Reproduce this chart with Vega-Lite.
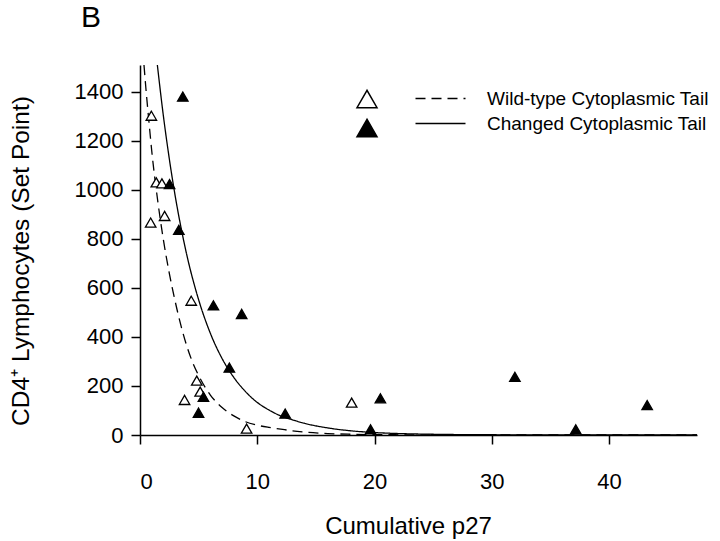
{
  "$schema": "https://vega.github.io/schema/vega-lite/v6.json",
  "autosize": "none",
  "width": 557,
  "height": 370,
  "padding": {"left": 140, "top": 65, "right": 23, "bottom": 106},
  "background": "white",
  "title": {"text": "B", "anchor": "start", "frame": "group", "dx": -59, "offset": 5, "baseline": "alphabetic", "fontSize": 30, "fontWeight": "normal", "font": "Liberation Sans", "color": "black"},
  "config": {
    "view": {"stroke": null},
    "font": "Liberation Sans",
    "axis": {"grid": false, "domainColor": "black", "domainWidth": 1.5, "tickColor": "black", "tickWidth": 1.5, "tickSize": 9, "labelColor": "black", "labelFont": "Liberation Sans", "labelFontSize": 22, "titleFont": "Liberation Sans", "titleFontSize": 24, "titleFontWeight": "normal", "titleColor": "black"}
  },
  "datasets": {
    "pts": [
      {"p27": 0.97, "cd4": 1303, "tail": "wild-type"},
      {"p27": 1.39, "cd4": 1031, "tail": "wild-type"},
      {"p27": 1.87, "cd4": 1027, "tail": "wild-type"},
      {"p27": 2.10, "cd4": 894, "tail": "wild-type"},
      {"p27": 0.91, "cd4": 867, "tail": "wild-type"},
      {"p27": 4.37, "cd4": 548, "tail": "wild-type"},
      {"p27": 4.84, "cd4": 222, "tail": "wild-type"},
      {"p27": 5.13, "cd4": 177, "tail": "wild-type"},
      {"p27": 3.80, "cd4": 143, "tail": "wild-type"},
      {"p27": 9.09, "cd4": 26, "tail": "wild-type"},
      {"p27": 18.05, "cd4": 132, "tail": "wild-type"},
      {"p27": 3.65, "cd4": 1381, "tail": "changed"},
      {"p27": 2.52, "cd4": 1024, "tail": "changed"},
      {"p27": 3.31, "cd4": 837, "tail": "changed"},
      {"p27": 6.26, "cd4": 529, "tail": "changed"},
      {"p27": 8.67, "cd4": 494, "tail": "changed"},
      {"p27": 7.62, "cd4": 275, "tail": "changed"},
      {"p27": 5.41, "cd4": 156, "tail": "changed"},
      {"p27": 4.99, "cd4": 91, "tail": "changed"},
      {"p27": 12.38, "cd4": 87, "tail": "changed"},
      {"p27": 20.5, "cd4": 150, "tail": "changed"},
      {"p27": 19.66, "cd4": 23, "tail": "changed"},
      {"p27": 37.16, "cd4": 23, "tail": "changed"},
      {"p27": 43.25, "cd4": 122, "tail": "changed"},
      {"p27": 31.97, "cd4": 237, "tail": "changed"}
    ],
    "fits": [
      {"x": 0.34, "y": 1510, "curve": "Wild-type Cytoplasmic Tail"},
      {"x": 0.5, "y": 1416, "curve": "Wild-type Cytoplasmic Tail"},
      {"x": 0.75, "y": 1285, "curve": "Wild-type Cytoplasmic Tail"},
      {"x": 1.0, "y": 1160, "curve": "Wild-type Cytoplasmic Tail"},
      {"x": 1.5, "y": 960, "curve": "Wild-type Cytoplasmic Tail"},
      {"x": 2.0, "y": 795, "curve": "Wild-type Cytoplasmic Tail"},
      {"x": 2.5, "y": 660, "curve": "Wild-type Cytoplasmic Tail"},
      {"x": 3.0, "y": 545, "curve": "Wild-type Cytoplasmic Tail"},
      {"x": 3.5, "y": 445, "curve": "Wild-type Cytoplasmic Tail"},
      {"x": 4.0, "y": 362, "curve": "Wild-type Cytoplasmic Tail"},
      {"x": 4.5, "y": 295, "curve": "Wild-type Cytoplasmic Tail"},
      {"x": 5.0, "y": 243, "curve": "Wild-type Cytoplasmic Tail"},
      {"x": 6.0, "y": 163, "curve": "Wild-type Cytoplasmic Tail"},
      {"x": 7.0, "y": 112, "curve": "Wild-type Cytoplasmic Tail"},
      {"x": 8.0, "y": 78, "curve": "Wild-type Cytoplasmic Tail"},
      {"x": 9.0, "y": 54, "curve": "Wild-type Cytoplasmic Tail"},
      {"x": 10.0, "y": 40, "curve": "Wild-type Cytoplasmic Tail"},
      {"x": 11.0, "y": 31, "curve": "Wild-type Cytoplasmic Tail"},
      {"x": 12.0, "y": 24, "curve": "Wild-type Cytoplasmic Tail"},
      {"x": 13.0, "y": 17, "curve": "Wild-type Cytoplasmic Tail"},
      {"x": 14.0, "y": 12, "curve": "Wild-type Cytoplasmic Tail"},
      {"x": 16.0, "y": 6, "curve": "Wild-type Cytoplasmic Tail"},
      {"x": 18.0, "y": 3, "curve": "Wild-type Cytoplasmic Tail"},
      {"x": 20.0, "y": 1.5, "curve": "Wild-type Cytoplasmic Tail"},
      {"x": 25.0, "y": 0.5, "curve": "Wild-type Cytoplasmic Tail"},
      {"x": 30.0, "y": 0.2, "curve": "Wild-type Cytoplasmic Tail"},
      {"x": 47.5, "y": 0, "curve": "Wild-type Cytoplasmic Tail"},
      {"x": 1.48, "y": 1510, "curve": "Changed Cytoplasmic Tail"},
      {"x": 2.0, "y": 1300, "curve": "Changed Cytoplasmic Tail"},
      {"x": 2.5, "y": 1127, "curve": "Changed Cytoplasmic Tail"},
      {"x": 3.0, "y": 976, "curve": "Changed Cytoplasmic Tail"},
      {"x": 3.5, "y": 846, "curve": "Changed Cytoplasmic Tail"},
      {"x": 4.0, "y": 733, "curve": "Changed Cytoplasmic Tail"},
      {"x": 5.0, "y": 552, "curve": "Changed Cytoplasmic Tail"},
      {"x": 6.0, "y": 415, "curve": "Changed Cytoplasmic Tail"},
      {"x": 7.0, "y": 312, "curve": "Changed Cytoplasmic Tail"},
      {"x": 8.0, "y": 235, "curve": "Changed Cytoplasmic Tail"},
      {"x": 9.0, "y": 177, "curve": "Changed Cytoplasmic Tail"},
      {"x": 10.0, "y": 133, "curve": "Changed Cytoplasmic Tail"},
      {"x": 11.0, "y": 102, "curve": "Changed Cytoplasmic Tail"},
      {"x": 12.0, "y": 78, "curve": "Changed Cytoplasmic Tail"},
      {"x": 13.0, "y": 62, "curve": "Changed Cytoplasmic Tail"},
      {"x": 14.0, "y": 48, "curve": "Changed Cytoplasmic Tail"},
      {"x": 16.0, "y": 29, "curve": "Changed Cytoplasmic Tail"},
      {"x": 18.0, "y": 17, "curve": "Changed Cytoplasmic Tail"},
      {"x": 20.0, "y": 10, "curve": "Changed Cytoplasmic Tail"},
      {"x": 22.0, "y": 6, "curve": "Changed Cytoplasmic Tail"},
      {"x": 25.0, "y": 3, "curve": "Changed Cytoplasmic Tail"},
      {"x": 30.0, "y": 1, "curve": "Changed Cytoplasmic Tail"},
      {"x": 35.0, "y": 0.5, "curve": "Changed Cytoplasmic Tail"},
      {"x": 47.5, "y": 0, "curve": "Changed Cytoplasmic Tail"}
    ]
  },
  "layer": [
    {
      "data": {"name": "fits"},
      "mark": {"type": "line", "color": "black", "strokeWidth": 1.3, "interpolate": "monotone"},
      "encoding": {
        "x": {"field": "x", "type": "quantitative", "scale": {"domain": [0, 47.5], "nice": false, "zero": false},
              "axis": {"values": [0, 10, 20, 30, 40], "format": "d", "title": "Cumulative p27", "labelPadding": 27, "titleBaseline": "alphabetic", "titleY": 98, "titleX": 268, "titleAlign": "center"}},
        "y": {"field": "y", "type": "quantitative", "scale": {"domain": [0, 1510], "nice": false},
              "axis": {"values": [0, 200, 400, 600, 800, 1000, 1200, 1400], "format": "d", "title": "CD4⁺ Lymphocytes (Set Point)", "titleFontSize": 24.5, "labelPadding": 8, "titleAngle": -90, "titleBaseline": "alphabetic", "titleX": -112, "titleY": 195.5, "titleAlign": "center"}},
        "strokeDash": {"field": "curve", "type": "nominal",
              "scale": {"domain": ["Wild-type Cytoplasmic Tail", "Changed Cytoplasmic Tail"], "range": [[10, 6], [1, 0]]},
              "legend": {"title": null, "orient": "none", "legendX": 291, "legendY": 24, "padding": 0, "symbolType": "M-5,0L5,0", "symbolSize": 100, "symbolStrokeColor": "black", "symbolStrokeWidth": 1.3, "labelOffset": 37, "labelFontSize": 19, "labelFont": "Liberation Sans", "labelColor": "black", "rowPadding": 5, "labelLimit": 400}}
      }
    },
    {
      "data": {"name": "pts"},
      "mark": {"type": "point", "shape": "triangle-up", "filled": true, "stroke": "black", "strokeWidth": 1.3, "size": 110, "opacity": 1},
      "encoding": {
        "x": {"field": "p27", "type": "quantitative"},
        "y": {"field": "cd4", "type": "quantitative"},
        "fill": {"field": "tail", "type": "nominal",
              "scale": {"domain": ["wild-type", "changed"], "range": ["white", "black"]},
              "legend": {"title": null, "orient": "none", "legendX": 216, "legendY": 23, "padding": 0, "symbolType": "triangle-up", "symbolSize": 400, "symbolStrokeColor": "black", "symbolStrokeWidth": 1.5, "symbolOpacity": 1, "labelExpr": "''", "labelFontSize": 1, "rowPadding": 5}}
      }
    }
  ]
}
